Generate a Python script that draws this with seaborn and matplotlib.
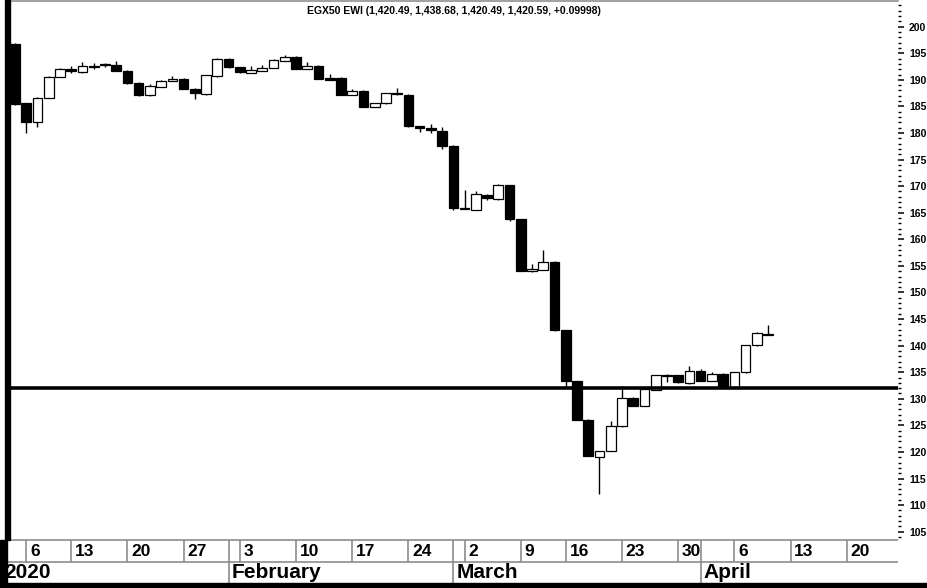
import pandas as pd
import seaborn as sns
import matplotlib.pyplot as plt
from matplotlib.ticker import MultipleLocator, FixedLocator

sns.set_theme(style="white")
plt.rcParams['font.family'] = ['Liberation Sans', 'DejaVu Sans']

# EGX50 EWI daily candles (values as shown on the axis)
dates = ['2020-01-05', '2020-01-06', '2020-01-08', '2020-01-09',
         '2020-01-12', '2020-01-13', '2020-01-14', '2020-01-15', '2020-01-16',
         '2020-01-19', '2020-01-20', '2020-01-21', '2020-01-22', '2020-01-23',
         '2020-01-26', '2020-01-27', '2020-01-28', '2020-01-29', '2020-01-30',
         '2020-02-02', '2020-02-03', '2020-02-04', '2020-02-05', '2020-02-06',
         '2020-02-09', '2020-02-10', '2020-02-11', '2020-02-12', '2020-02-13',
         '2020-02-16', '2020-02-17', '2020-02-18', '2020-02-19', '2020-02-20',
         '2020-02-23', '2020-02-24', '2020-02-25', '2020-02-26', '2020-02-27',
         '2020-03-01', '2020-03-02', '2020-03-03', '2020-03-04', '2020-03-05',
         '2020-03-08', '2020-03-09', '2020-03-10', '2020-03-11', '2020-03-12',
         '2020-03-16', '2020-03-17', '2020-03-18', '2020-03-19',
         '2020-03-22', '2020-03-23', '2020-03-24', '2020-03-25', '2020-03-26',
         '2020-03-29', '2020-03-30', '2020-03-31', '2020-04-01', '2020-04-02',
         '2020-04-05', '2020-04-06', '2020-04-07', '2020-04-08', '2020-04-09']

open_ = [196.8, 185.6, 182.1, 186.6, 190.6, 192.1, 191.5, 192.5, 192.7,
         192.8, 191.7, 189.4, 187.2, 188.7, 189.8, 190.2, 188.3, 187.3, 190.7,
         194.0, 192.4, 191.3, 191.7, 192.3, 193.6, 194.3, 192.1, 192.6, 190.4,
         190.4, 187.2, 187.9, 184.9, 185.6, 187.5, 187.2, 181.3, 180.9, 180.4,
         177.6, 165.75, 165.6, 168.3, 167.5, 170.2, 163.8, 154.1, 154.3, 155.8,
         142.9, 133.3, 126.1, 119.1, 120.2, 124.8, 130.2, 128.7, 131.7,
         134.2, 134.4, 132.9, 135.3, 133.4, 134.6, 132.3, 135.0, 140.1, 142.05]
high = [197.0, 185.7, 186.7, 190.8, 192.3, 192.6, 193.3, 193.2, 193.1,
        193.6, 191.8, 189.5, 189.2, 190.0, 190.7, 190.3, 188.4, 191.0, 194.2,
        194.1, 192.5, 192.6, 192.8, 193.9, 194.7, 194.4, 193.4, 192.7, 191.1,
        190.5, 188.3, 188.0, 185.7, 187.6, 188.5, 187.3, 181.4, 181.7, 181.1,
        177.7, 169.2, 169.0, 168.6, 170.5, 170.3, 163.9, 155.4, 157.9, 155.9,
        143.0, 133.4, 126.2, 120.2, 125.9, 132.5, 130.3, 132.0, 134.5,
        134.6, 134.5, 136.1, 135.7, 135.1, 134.9, 135.1, 140.2, 142.6, 143.87]
low = [185.3, 180.0, 181.1, 186.5, 190.5, 191.3, 191.3, 192.1, 192.5,
       191.6, 189.3, 187.0, 187.0, 188.6, 189.7, 188.2, 186.4, 187.2, 190.6,
       192.3, 191.3, 191.2, 191.6, 192.2, 193.5, 192.0, 192.0, 190.1, 189.9,
       187.1, 187.1, 184.8, 184.8, 185.5, 187.2, 181.2, 180.2, 180.0, 177.0,
       165.6, 165.7, 165.5, 167.4, 167.4, 163.5, 154.0, 153.8, 154.2, 142.8,
       132.3, 126.0, 119.2, 112.1, 120.1, 124.7, 128.6, 128.6, 131.6,
       133.1, 133.0, 132.8, 133.3, 133.3, 132.4, 132.2, 134.9, 140.0, 142.05]
close = [185.5, 182.1, 186.6, 190.6, 192.1, 191.7, 192.6, 192.6, 192.9,
         191.7, 189.4, 187.2, 188.9, 189.8, 190.2, 188.3, 187.5, 190.9, 194.0,
         192.4, 191.5, 191.9, 192.3, 193.8, 194.3, 192.1, 192.6, 190.2, 190.0,
         187.2, 187.9, 184.9, 185.6, 187.5, 187.4, 181.3, 180.9, 180.5, 177.5,
         165.8, 165.85, 168.5, 167.7, 170.2, 163.8, 154.1, 154.5, 155.8, 142.9,
         133.3, 126.1, 119.3, 120.2, 124.9, 130.2, 128.7, 131.9, 134.4,
         134.4, 133.1, 135.3, 133.4, 134.6, 132.5, 135.0, 140.1, 142.3, 142.06]

# empty trading slots to the right of the last candle
future_dates = ['2020-04-12', '2020-04-13', '2020-04-14', '2020-04-15', '2020-04-16',
                '2020-04-19', '2020-04-20', '2020-04-21', '2020-04-22', '2020-04-23',
                '2020-04-26']

week_dates = ['2020-01-06', '2020-01-13', '2020-01-20', '2020-01-27',
              '2020-02-03', '2020-02-10', '2020-02-17', '2020-02-24',
              '2020-03-02', '2020-03-09', '2020-03-16', '2020-03-23', '2020-03-30',
              '2020-04-06', '2020-04-13', '2020-04-20']
week_labels = ['6', '13', '20', '27', '3', '10', '17', '24',
               '2', '9', '16', '23', '30', '6', '13', '20']
month_dates = ['2020-02-02', '2020-03-01', '2020-04-01']
month_labels = ['February', 'March', 'April']
first_label = '2020'

support_level = 132.0
title = 'EGX50 EWI (1,420.49, 1,438.68, 1,420.49, 1,420.59, +0.09998)'

df = pd.DataFrame({'date': dates, 'open': open_, 'high': high,
                   'low': low, 'close': close})
df['pos'] = range(len(df))
all_dates = dates + future_dates
pos_of = {d: i for i, d in enumerate(all_dates)}

W, H = 928, 588
fig = plt.figure(figsize=(W / 100, H / 100), dpi=100)

# pixel layout
slot = 11.24
x0 = 15.0
left_px, right_px, top_px, bot_px = 10, 898, 1, 540
xlim_main = ((left_px - x0) / slot, (right_px - x0) / slot)

ax = fig.add_axes([left_px / W, 1 - bot_px / H, (right_px - left_px) / W,
                   (bot_px - top_px) / H])
ax.set_xlim(*xlim_main)
ax.set_ylim(103.44, 204.83)

up = df['close'] >= df['open']
body_lo = df[['open', 'close']].min(axis=1)
body_h = (df['close'] - df['open']).abs().clip(lower=0.18)

ax.vlines(df['pos'], df['low'], df['high'], color='black', lw=1, zorder=2)
ax.bar(df['pos'][up], body_h[up], bottom=body_lo[up], width=0.86,
       color='white', edgecolor='black', linewidth=0.9, zorder=3)
ax.bar(df['pos'][~up], body_h[~up], bottom=body_lo[~up], width=0.86,
       color='black', edgecolor='black', linewidth=0.9, zorder=3)

ax.axhline(support_level, color='black', lw=2.6, zorder=4)

for s in ['left', 'bottom', 'right']:
    ax.spines[s].set_visible(False)
ax.spines['top'].set_color('#909090')
ax.spines['top'].set_linewidth(1.2)

ax.yaxis.tick_right()
ax.yaxis.set_major_locator(FixedLocator(list(range(105, 205, 5))))
ax.yaxis.set_minor_locator(MultipleLocator(1))
ax.tick_params(axis='y', which='major', direction='out', length=4.5, width=1.1,
               color='black', pad=3.5, labelsize=7.5, labelcolor='black')
ax.tick_params(axis='y', which='minor', direction='out', length=1.8, width=1,
               color='black')
for lab in ax.get_yticklabels():
    lab.set_fontweight('bold')
ax.set_xticks([])
ax.grid(False)

fig.text((left_px + right_px) / 2 / W, 1 - 10.5 / H, title, ha='center',
         va='center', fontsize=7.5, fontweight='bold', color='black')

# date rows
row_top, row_bot = 540, 583
ax2 = fig.add_axes([0, 1 - row_bot / H, right_px / W, (row_bot - row_top) / H])
ax2.set_xlim(-x0 / slot, xlim_main[1])
ax2.set_ylim(0, 1)
ax2.axis('off')
mid = (row_bot - 562) / (row_bot - row_top)
grey = '#8c8c8c'
ax2.hlines(1, xlim_main[0], xlim_main[1], color=grey, lw=1.2, clip_on=False)
ax2.hlines(mid, -x0 / slot, xlim_main[1], color=grey, lw=1.2)

for d, lab in zip(week_dates, week_labels):
    p = pos_of[d]
    ax2.vlines(p, mid, 1, color=grey, lw=1.2)
    ax2.text(p + 0.33, (mid + 1) / 2, lab, ha='left', va='center',
             fontsize=12.5, fontweight='bold', color='black')
for d, lab in zip(month_dates, month_labels):
    p = pos_of[d]
    ax2.vlines(p, 0, 1, color=grey, lw=1.2)
    ax2.text(p + 0.25, mid / 2, lab, ha='left', va='center',
             fontsize=15, fontweight='bold', color='black')
ax2.text((4 - x0) / slot, mid / 2, first_label, ha='left', va='center',
         fontsize=15, fontweight='bold', color='black')

# frame pieces
fig.add_artist(plt.Rectangle((5 / W, 1 - bot_px / H), 5 / W, bot_px / H,
                             transform=fig.transFigure, color='black', zorder=5))
fig.add_artist(plt.Rectangle((0, 0), 7 / W, (H - bot_px) / H,
                             transform=fig.transFigure, color='black', zorder=5))
fig.add_artist(plt.Rectangle((0, 0), 1, 5 / H, transform=fig.transFigure,
                             color='black', zorder=5))

fig.savefig('out.png', dpi=100)
